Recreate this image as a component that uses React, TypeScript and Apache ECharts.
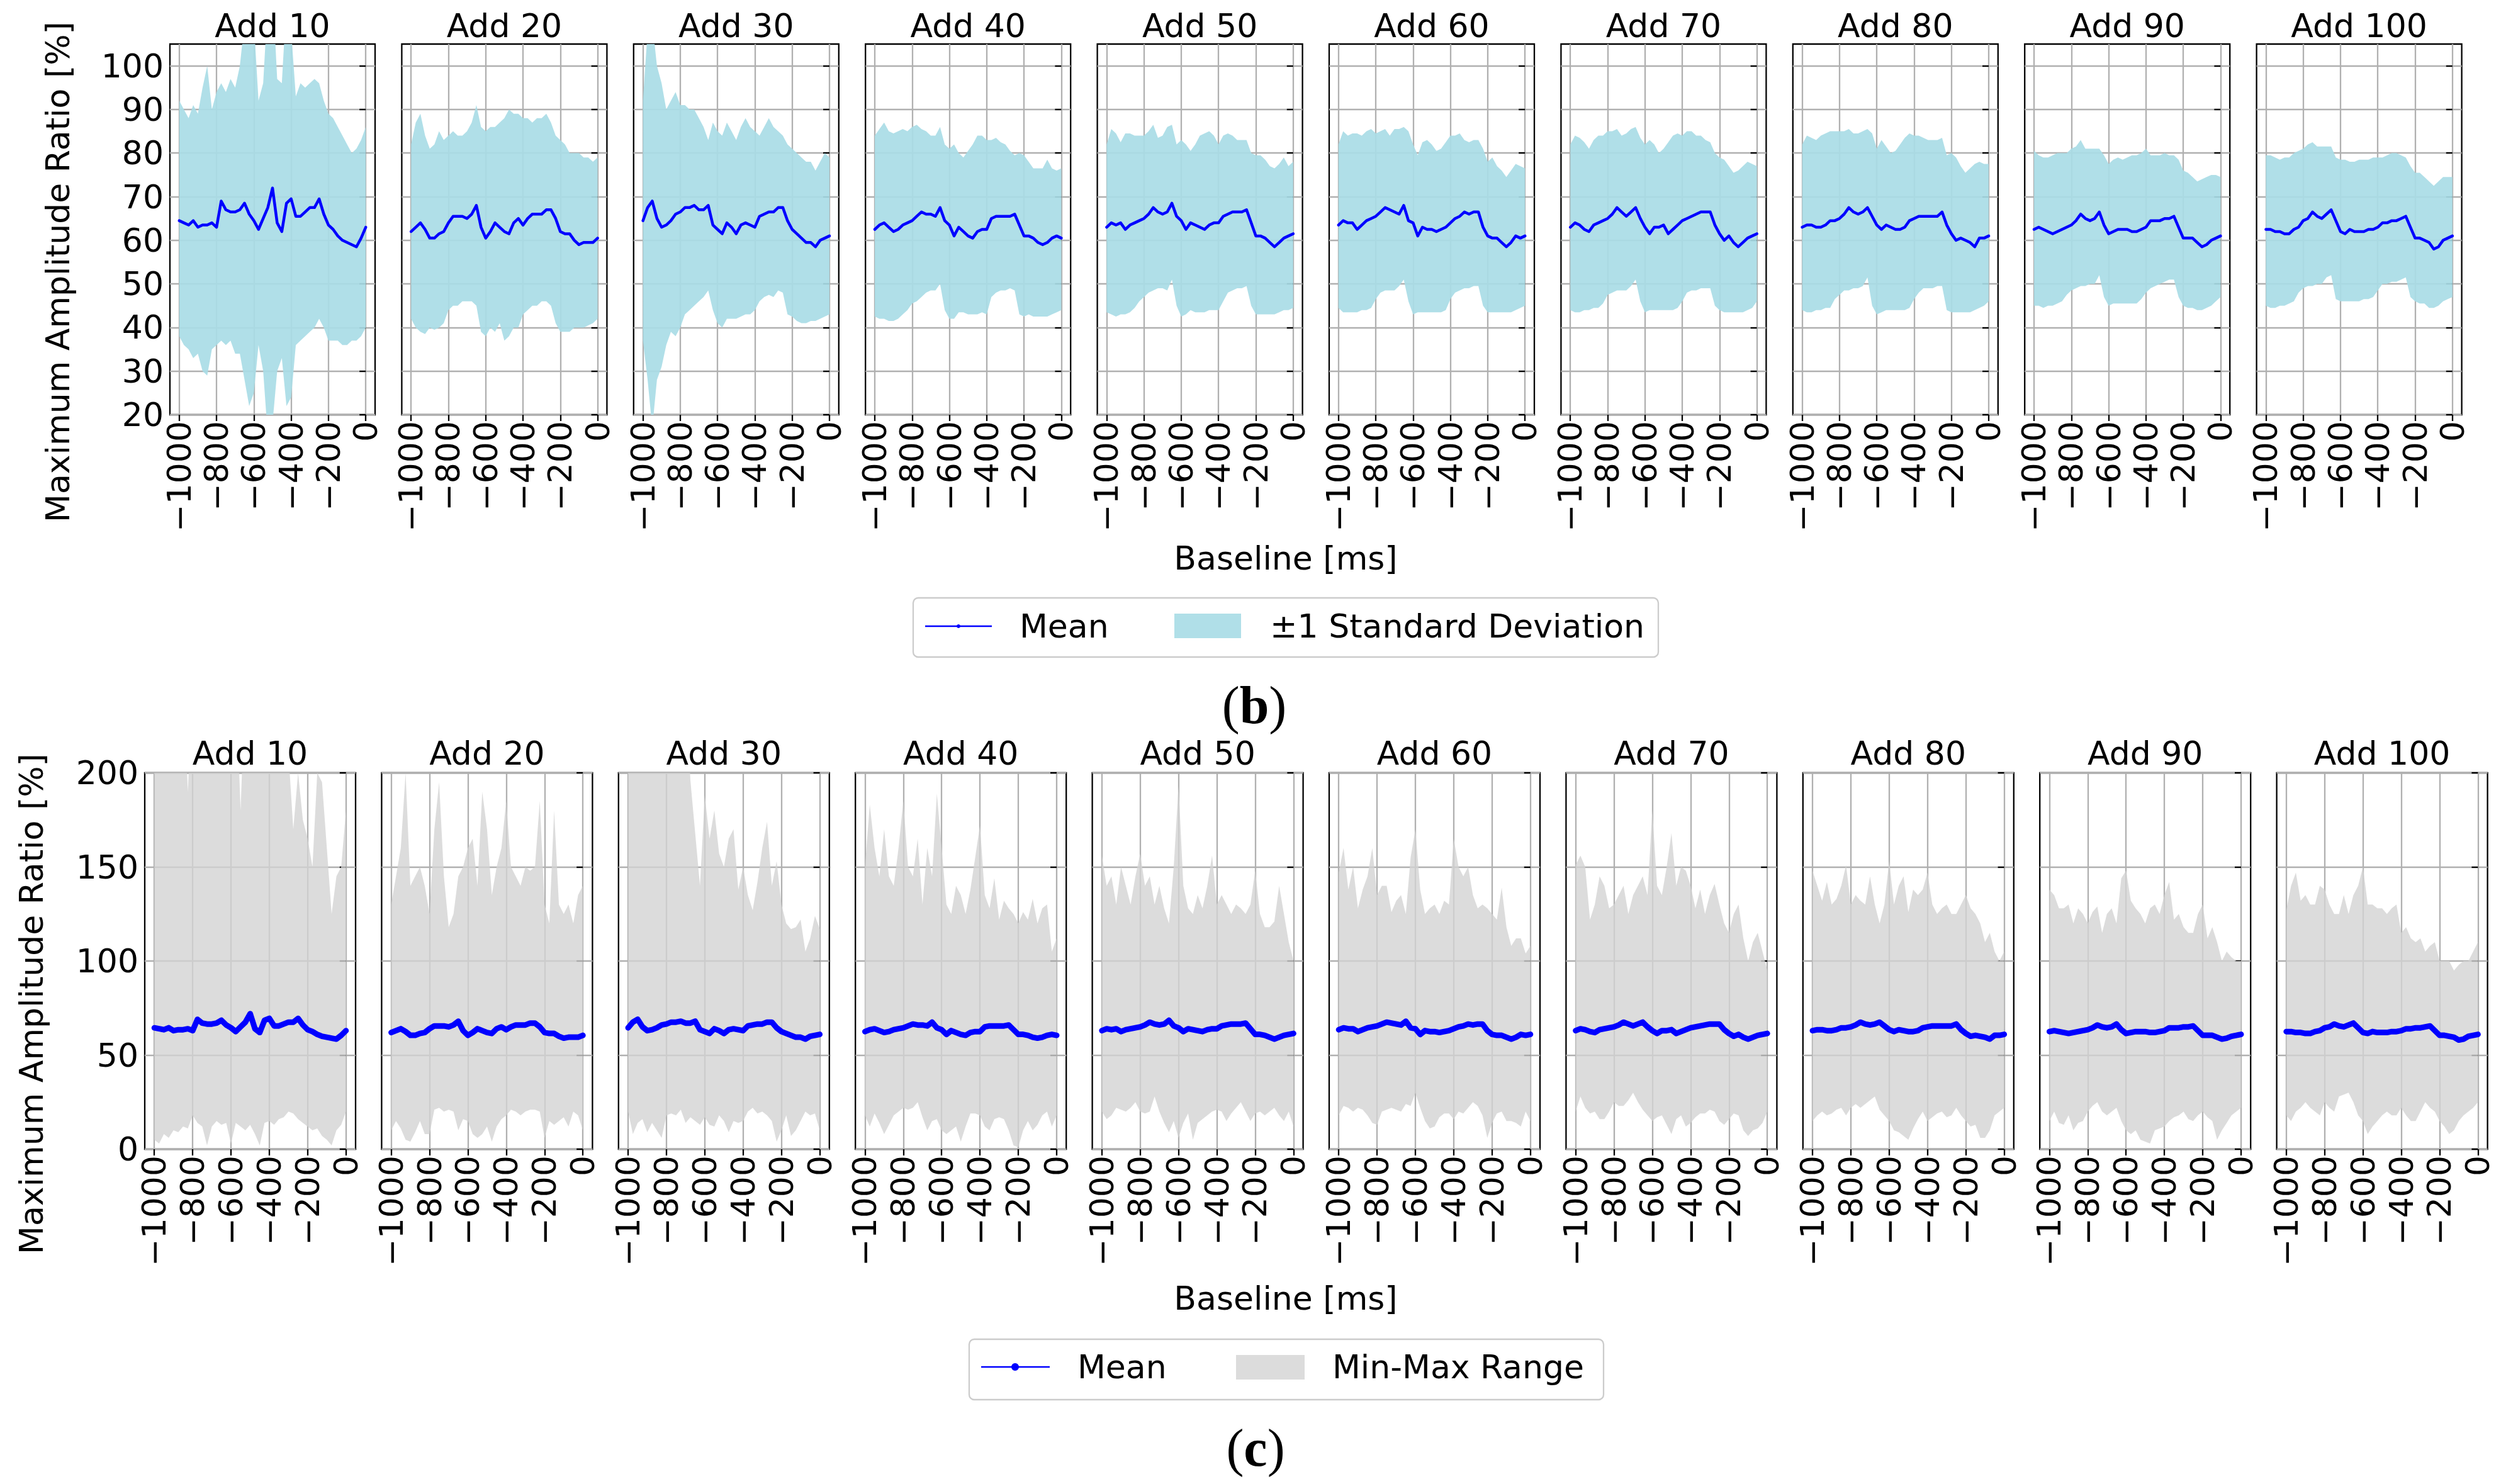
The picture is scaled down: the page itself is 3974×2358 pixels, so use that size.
import React, { useEffect, useRef } from "react";
import * as echarts from "echarts";

// ---------------- DATA ----------------
const baselineMs = [-1000, -975, -950, -925, -900, -875, -850, -825, -800, -775, -750, -725, -700, -675, -650, -625, -600, -575, -550, -525, -500, -475, -450, -425, -400, -375, -350, -325, -300, -275, -250, -225, -200, -175, -150, -125, -100, -75, -50, -25, 0];
const xTickValues = [-1000, -800, -600, -400, -200, 0];
const yTicksStd = [20, 30, 40, 50, 60, 70, 80, 90, 100];
const yTicksRange = [0, 50, 100, 150, 200];
const panelNames = ["Add 10", "Add 20", "Add 30", "Add 40", "Add 50", "Add 60", "Add 70", "Add 80", "Add 90", "Add 100"];

const meanAdd10 = [64.5, 64, 63.5, 64.5, 63, 63.5, 63.5, 64, 63, 69, 67, 66.5, 66.5, 67, 68.5, 66, 64.5, 62.5, 65, 67.5, 72, 64, 62, 68.5, 69.5, 65.5, 65.5, 66.5, 67.5, 67.5, 69.5, 66, 63.5, 62.5, 61, 60, 59.5, 59, 58.5, 60.5, 63];
const meanAdd20 = [62, 63, 64, 62.5, 60.5, 60.5, 61.5, 62, 64, 65.5, 65.5, 65.5, 65, 66, 68, 63, 60.5, 62, 64, 63, 62, 61.5, 64, 65, 63.5, 65, 66, 66, 66, 67, 67, 65, 62, 61.5, 61.5, 60, 59, 59.5, 59.5, 59.5, 60.5];
const meanAdd30 = [64.5, 67.5, 69, 65, 63, 63.5, 64.5, 66, 66.5, 67.5, 67.5, 68, 67, 67, 68, 63.5, 62.5, 61.5, 64, 63, 61.5, 63.5, 64, 63.5, 63, 65.5, 66, 66.5, 66.5, 67.5, 67.5, 64.5, 62.5, 61.5, 60.5, 59.5, 59.5, 58.5, 60, 60.5, 61];
const meanAdd40 = [62.5, 63.5, 64, 63, 62, 62.5, 63.5, 64, 64.5, 65.5, 66.5, 66, 66, 65.5, 67.5, 64.5, 63.5, 61, 63, 62, 61, 60.5, 62, 62.5, 62.5, 65, 65.5, 65.5, 65.5, 65.5, 66, 63.5, 61, 61, 60.5, 59.5, 59, 59.5, 60.5, 61, 60.5];
const meanAdd50 = [63, 64, 63.5, 64, 62.5, 63.5, 64, 64.5, 65, 66, 67.5, 66.5, 66, 66.5, 68.5, 65.5, 64.5, 62.5, 64, 63.5, 63, 62.5, 63.5, 64, 64, 65.5, 66, 66.5, 66.5, 66.5, 67, 64, 61, 61, 60.5, 59.5, 58.5, 59.5, 60.5, 61, 61.5];
const meanAdd60 = [63.5, 64.5, 64, 64, 62.5, 63.5, 64.5, 65, 65.5, 66.5, 67.5, 67, 66.5, 66, 68, 64.5, 64, 61, 63, 62.5, 62.5, 62, 62.5, 63, 64, 65, 65.5, 66.5, 66, 66.5, 66.5, 63, 61, 60.5, 60.5, 59.5, 58.5, 59.5, 61, 60.5, 61];
const meanAdd70 = [63, 64, 63.5, 62.5, 62, 63.5, 64, 64.5, 65, 66, 67.5, 66.5, 65.5, 66.5, 67.5, 65, 63, 61.5, 63, 63, 63.5, 61.5, 62.5, 63.5, 64.5, 65, 65.5, 66, 66.5, 66.5, 66.5, 63.5, 61.5, 60, 61, 59.5, 58.5, 59.5, 60.5, 61, 61.5];
const meanAdd80 = [63, 63.5, 63.5, 63, 63, 63.5, 64.5, 64.5, 65, 66, 67.5, 66.5, 66, 66.5, 67.5, 65.5, 63.5, 62.5, 63.5, 63, 62.5, 62.5, 63, 64.5, 65, 65.5, 65.5, 65.5, 65.5, 65.5, 66.5, 63.5, 61.5, 60, 60.5, 60, 59.5, 58.5, 60.5, 60.5, 61];
const meanAdd90 = [62.5, 63, 62.5, 62, 61.5, 62, 62.5, 63, 63.5, 64.5, 66, 65, 64.5, 65, 66.5, 63.5, 61.5, 62, 62.5, 62.5, 62.5, 62, 62, 62.5, 63, 64.5, 64.5, 64.5, 65, 65, 65.5, 63, 60.5, 60.5, 60.5, 59.5, 58.5, 59, 60, 60.5, 61];
const meanAdd100 = [62.5, 62.5, 62, 62, 61.5, 61.5, 62.5, 63, 64.5, 65, 66.5, 65.5, 65, 66, 67, 64.5, 62, 61.5, 62.5, 62, 62, 62, 62.5, 62.5, 63, 64, 64, 64.5, 64.5, 65, 65.5, 63, 60.5, 60.5, 60, 59.5, 58, 58.5, 60, 60.5, 61];

const stdHiAdd10 = [92, 90, 88, 91, 89, 95, 100, 90, 94, 96, 94, 97, 95, 100, 110, 112, 110, 92, 96, 115, 118, 97, 96, 115, 108, 93, 96, 95, 96, 97, 96, 92, 89, 88, 86, 84, 82, 80, 81, 83, 86];
const stdLoAdd10 = [38, 36, 35, 33, 34, 30, 29, 35, 36, 37, 36, 37, 34, 34, 28, 22, 25, 36, 30, 15, 18, 30, 33, 22, 24, 36, 37, 38, 39, 40, 42, 40, 37, 37, 37, 36, 36, 37, 37, 38, 40];
const stdHiAdd20 = [82, 87, 89, 84, 81, 82, 85, 83, 84, 85, 84, 84, 85, 87, 91, 86, 85, 86, 86, 87, 88, 90, 89, 89, 88, 88, 87, 88, 88, 89, 87, 84, 83, 82, 80, 80, 80, 79, 79, 78, 79];
const stdLoAdd20 = [42, 40, 39, 38.5, 40, 39.5, 40, 41, 44, 45, 45, 46, 46, 46, 45, 39, 38, 40, 39, 41, 37, 38, 40, 40, 43, 44, 45, 45, 46, 46, 45, 41, 39, 39, 39, 40, 40, 40, 40.5, 41, 42];
const stdHiAdd30 = [92, 108, 110, 100, 96, 90, 92, 94, 91, 91, 90, 90, 88, 86, 83, 87, 85, 84, 87, 85, 83, 86, 88, 86, 85, 84, 86, 88, 86, 85, 84, 82, 81, 80, 79, 78, 78, 76, 78, 80, 79];
const stdLoAdd30 = [37, 28, 17, 28, 31, 36, 39, 38, 40, 43, 44, 45, 46, 47, 48.5, 44, 41, 40, 42, 42, 42, 42.5, 43, 43, 44, 46, 47, 47.5, 47, 48.5, 48, 43, 42.5, 41.5, 41, 41, 41.5, 41.5, 42, 42.5, 43];
const stdHiAdd40 = [84, 85.5, 87, 85, 84.5, 85, 85.5, 85, 86, 86.5, 85.5, 85, 84, 84, 86, 82, 81, 82, 80, 79, 80.5, 82, 84, 84, 83, 83, 83.5, 82.5, 82, 80.5, 79.5, 80, 79.5, 78, 76.5, 76.5, 76.5, 78.5, 76.5, 76, 76.5];
const stdLoAdd40 = [42.5, 42, 42, 41.5, 41.5, 42, 43, 44, 45.5, 46, 47, 48, 48.5, 48.5, 50, 44, 42, 42, 43.5, 43.5, 43, 43, 43, 43.5, 43, 47, 48, 48.5, 48.5, 49, 48.5, 43, 42.5, 43, 42.5, 42.5, 42.5, 42.5, 43, 43.5, 44];
const stdHiAdd50 = [82, 85.5, 84.5, 82.5, 84.5, 84.5, 84, 84, 84, 85, 86.5, 83.5, 84, 86, 86.5, 82, 83, 82, 80.5, 82, 84, 84.5, 85, 84, 82, 84, 84.5, 84, 83, 83, 83, 80, 79.5, 79.5, 78.5, 77, 76.5, 77.5, 79, 77, 78];
const stdLoAdd50 = [43.5, 43, 42.5, 43, 43, 43.5, 44.5, 46, 47, 48, 48.5, 49, 49, 48.5, 51, 45, 42.5, 43, 44, 43.5, 43.5, 43.5, 44, 44, 44, 46, 48, 48.5, 49, 49, 49.5, 45, 43, 43, 43, 43, 43, 43.5, 44, 44, 44.5];
const stdHiAdd60 = [82, 85, 84, 84.5, 84.5, 84, 85, 85.5, 84.5, 85, 85.5, 84, 85.5, 85.5, 86, 85, 82, 79.5, 82.5, 83, 82, 80.5, 81, 82.5, 84, 84, 84.5, 83, 82.5, 83, 83, 81, 78, 79, 77, 76, 74.5, 76, 77.5, 77, 76.5];
const stdLoAdd60 = [44.5, 43.5, 43.5, 43.5, 43.5, 44, 44, 44.5, 46.5, 48, 48.5, 48.5, 48.5, 49.5, 51, 46, 43, 43.5, 43.5, 43.5, 43.5, 43.5, 43.5, 44, 46.5, 48, 48.5, 49, 49, 49.5, 49.5, 45, 43.5, 43.5, 43.5, 43.5, 43.5, 43.5, 44, 44.5, 45];
const stdHiAdd70 = [82, 84, 83.5, 82.5, 81, 83, 84, 84, 85, 85, 85.5, 84, 84.5, 85.5, 86, 83.5, 82, 83, 82, 80, 81, 82.5, 84, 84.5, 84, 85, 85, 84, 84, 83, 82.5, 80, 79, 78.5, 77, 75.5, 76, 77, 78, 77.5, 77];
const stdLoAdd70 = [44, 43.5, 43.5, 44, 44, 44.5, 44.5, 45.5, 47.5, 48, 48.5, 48.5, 48.5, 49.5, 51, 46, 43.5, 44, 44, 44, 44, 44, 44, 44.5, 46, 48, 48.5, 48.5, 49, 49, 49, 45, 44, 43.5, 43.5, 43.5, 43.5, 43.5, 44, 44.5, 46];
const stdHiAdd80 = [82, 84, 83.5, 83, 84, 84.5, 85, 85, 85, 85, 85.5, 84.5, 84.5, 85, 85.5, 84.5, 81, 83, 81.5, 80, 80.5, 82, 83.5, 84.5, 84, 84, 83.5, 83, 83, 83, 83.5, 79.5, 80, 79, 77, 75.5, 76.5, 77.5, 78, 77.5, 77.5];
const stdLoAdd80 = [44, 43.5, 43.5, 44, 44, 44.5, 44.5, 46.5, 47.5, 48.5, 48.5, 49, 49, 49.5, 51.5, 45, 43, 43.5, 44, 44, 44, 44, 44, 44.5, 46.5, 48, 49, 49, 49, 49.5, 49.5, 44, 43.5, 43.5, 43.5, 43.5, 43.5, 44, 44.5, 45, 46];
const stdHiAdd90 = [80.5, 79.5, 79, 79, 79.5, 80, 80, 80, 81, 81.5, 83, 81, 81, 81, 81, 79.5, 77.5, 78.5, 79, 78.5, 79, 79.5, 79.5, 80, 81, 79.5, 79.5, 79.5, 80, 79.5, 79.5, 78.5, 76, 75.5, 74.5, 73.5, 74, 74.5, 75, 75, 74.5];
const stdLoAdd90 = [45, 45, 44.5, 45, 45, 45.5, 46, 47.5, 48.5, 49, 49.5, 49.5, 50, 50, 52, 47, 45, 45.5, 45.5, 45.5, 45.5, 45.5, 45.5, 46.5, 48, 49, 49.5, 50, 50.5, 51, 51, 47, 45, 44.5, 44.5, 44, 44, 44.5, 45, 46, 47];
const stdHiAdd100 = [79.5, 79.5, 79, 78.5, 79, 79, 80, 80.5, 81, 82, 82.5, 81.5, 81.5, 81.5, 81.5, 79, 78.5, 78.5, 78, 78, 78.5, 78.5, 78.5, 79, 79, 79, 79.5, 80, 80, 79.5, 79, 77, 75.5, 75.5, 74.5, 73.5, 72.5, 73.5, 74.5, 74.5, 74.5];
const stdLoAdd100 = [45, 44.5, 44.5, 45, 45, 45.5, 46, 48, 49, 49.5, 49.5, 50, 50, 51.5, 52, 46.5, 46, 46, 46, 46, 46, 46.5, 46.5, 47, 48.5, 50, 50, 50.5, 50.5, 51, 51.5, 47, 46, 45.5, 45.5, 44.5, 44.5, 45, 46, 46.5, 47];

const maxAdd10 = [260, 250, 250, 250, 250, 250, 250, 190, 250, 250, 250, 250, 250, 250, 250, 250, 250, 250, 180, 250, 250, 250, 250, 250, 250, 250, 250, 250, 210, 170, 200, 175, 165, 150, 200, 195, 160, 125, 145, 150, 180];
const minAdd10 = [5, 3, 8, 6, 10, 9, 12, 11, 18, 14, 12, 2, 12, 15, 13, 14, 3, 14, 12, 10, 13, 8, 2, 14, 15, 13, 16, 17, 20, 19, 16, 14, 12, 10, 11, 7, 5, 2, 10, 13, 20];
const maxAdd20 = [130, 145, 160, 200, 140, 145, 150, 140, 125, 170, 195, 145, 118, 125, 145, 150, 160, 165, 140, 190, 170, 135, 150, 160, 185, 150, 145, 140, 150, 148, 150, 185, 130, 120, 180, 130, 125, 130, 120, 135, 140];
const minAdd20 = [10, 15, 11, 5, 4, 9, 15, 8, 8, 21, 22, 20, 21, 20, 10, 16, 15, 8, 6, 8, 12, 4, 12, 16, 18, 21, 20, 18, 20, 21, 21, 20, 6, 15, 13, 15, 17, 12, 20, 18, 10];
const maxAdd30 = [240, 250, 250, 250, 250, 250, 250, 250, 250, 250, 250, 250, 250, 196, 168, 140, 188, 165, 180, 157, 150, 165, 170, 138, 150, 135, 127, 142, 160, 174, 140, 153, 130, 120, 117, 118, 122, 105, 112, 124, 117];
const minAdd30 = [20, 8, 14, 16, 9, 14, 10, 6, 18, 19, 18, 21, 14, 17, 15, 13, 17, 13, 12, 18, 15, 9, 15, 14, 15, 20, 22, 19, 20, 18, 15, 4, 10, 18, 7, 10, 15, 20, 18, 19, 10];
const maxAdd40 = [150, 183, 160, 145, 170, 145, 140, 160, 185, 150, 145, 165, 130, 160, 145, 189, 160, 130, 125, 140, 135, 125, 138, 155, 172, 135, 128, 144, 122, 132, 128, 125, 120, 126, 122, 133, 120, 128, 130, 105, 112];
const minAdd40 = [18, 12, 19, 14, 8, 13, 18, 20, 22, 21, 22, 25, 17, 10, 15, 16, 10, 8, 10, 12, 4, 12, 19, 19, 18, 12, 10, 16, 17, 16, 10, 2, 1, 10, 15, 10, 13, 18, 20, 12, 18];
const maxAdd50 = [156, 140, 145, 130, 150, 140, 130, 145, 157, 140, 145, 130, 140, 128, 120, 150, 193, 140, 128, 125, 135, 128, 140, 156, 130, 135, 130, 125, 130, 128, 125, 130, 148, 125, 118, 118, 121, 140, 125, 110, 100];
const minAdd50 = [20, 16, 18, 22, 21, 20, 22, 25, 20, 19, 20, 28, 20, 14, 9, 15, 6, 14, 19, 5, 14, 16, 18, 20, 21, 20, 15, 19, 22, 25, 20, 15, 19, 20, 18, 20, 22, 18, 15, 20, 12];
const maxAdd60 = [147, 160, 138, 150, 128, 138, 145, 160, 135, 140, 140, 126, 132, 135, 125, 155, 170, 138, 125, 128, 130, 125, 132, 130, 165, 150, 145, 150, 135, 128, 130, 128, 125, 122, 139, 118, 108, 112, 112, 104, 108];
const minAdd60 = [18, 23, 22, 20, 22, 21, 18, 14, 13, 20, 21, 22, 21, 20, 24, 23, 30, 22, 15, 11, 12, 17, 19, 19, 16, 20, 19, 22, 25, 23, 18, 6, 14, 19, 20, 15, 15, 14, 12, 20, 15];
const maxAdd70 = [151, 156, 150, 122, 130, 145, 140, 128, 130, 135, 140, 125, 135, 140, 145, 135, 180, 140, 135, 150, 168, 140, 150, 148, 140, 128, 138, 125, 135, 141, 130, 120, 115, 125, 130, 112, 100, 110, 115, 105, 95];
const minAdd70 = [20, 28, 22, 19, 20, 16, 16, 20, 25, 23, 23, 26, 30, 25, 21, 18, 15, 17, 18, 13, 8, 16, 18, 12, 14, 17, 19, 19, 21, 20, 15, 13, 16, 19, 18, 10, 7, 10, 11, 14, 20];
const maxAdd80 = [148, 140, 132, 142, 130, 133, 140, 151, 130, 135, 132, 130, 145, 130, 120, 130, 153, 130, 140, 145, 126, 138, 135, 138, 147, 130, 125, 128, 130, 125, 125, 130, 135, 128, 125, 120, 110, 115, 105, 100, 105];
const minAdd80 = [15, 18, 20, 18, 19, 21, 22, 18, 22, 24, 22, 24, 26, 28, 21, 18, 15, 10, 9, 7, 5, 11, 16, 20, 15, 17, 19, 20, 17, 18, 22, 18, 15, 12, 13, 6, 6, 10, 18, 20, 22];
const maxAdd90 = [138, 135, 128, 128, 130, 120, 128, 125, 120, 126, 129, 115, 125, 128, 120, 144, 148, 132, 128, 125, 120, 128, 130, 125, 135, 142, 122, 125, 118, 115, 115, 125, 130, 112, 118, 110, 100, 105, 102, 100, 100];
const minAdd90 = [15, 20, 14, 13, 18, 10, 14, 15, 20, 23, 25, 20, 18, 20, 22, 15, 10, 8, 10, 5, 4, 3, 10, 11, 12, 15, 17, 18, 20, 16, 15, 18, 20, 17, 15, 5, 10, 14, 18, 20, 22];
const maxAdd100 = [127, 140, 147, 132, 135, 130, 130, 140, 138, 130, 125, 125, 135, 125, 135, 140, 150, 130, 130, 128, 128, 125, 128, 130, 115, 118, 112, 110, 112, 105, 108, 110, 100, 100, 100, 95, 98, 100, 100, 105, 110];
const minAdd100 = [18, 15, 20, 22, 25, 22, 20, 18, 25, 22, 20, 28, 29, 30, 25, 18, 15, 8, 12, 15, 18, 20, 18, 18, 22, 18, 15, 15, 20, 25, 22, 20, 15, 12, 8, 10, 15, 18, 20, 22, 25];

const meanByPanel = [meanAdd10, meanAdd20, meanAdd30, meanAdd40, meanAdd50, meanAdd60, meanAdd70, meanAdd80, meanAdd90, meanAdd100];
const stdHiByPanel = [stdHiAdd10, stdHiAdd20, stdHiAdd30, stdHiAdd40, stdHiAdd50, stdHiAdd60, stdHiAdd70, stdHiAdd80, stdHiAdd90, stdHiAdd100];
const stdLoByPanel = [stdLoAdd10, stdLoAdd20, stdLoAdd30, stdLoAdd40, stdLoAdd50, stdLoAdd60, stdLoAdd70, stdLoAdd80, stdLoAdd90, stdLoAdd100];
const maxByPanel = [maxAdd10, maxAdd20, maxAdd30, maxAdd40, maxAdd50, maxAdd60, maxAdd70, maxAdd80, maxAdd90, maxAdd100];
const minByPanel = [minAdd10, minAdd20, minAdd30, minAdd40, minAdd50, minAdd60, minAdd70, minAdd80, minAdd90, minAdd100];

// ---------------- LAYOUT / STYLE ----------------
const FIG_W = 3974;
const FIG_H = 2358;
const FONT = "DejaVu Sans";
const FS = 52;

const ROWS = [
  {
    left: 270, pitch: 368.4, width: 326, top: 70, height: 589,
    yMin: 20, yMax: 105, yInterval: 10, yTicks: yTicksStd,
    bandColor: "#A9DCE6", bandOpacity: 0.92, lineWidth: 4.5,
    titleY: 41, hi: stdHiByPanel, lo: stdLoByPanel,
  },
  {
    left: 230, pitch: 376.4, width: 335, top: 1228, height: 598,
    yMin: 0, yMax: 200, yInterval: 50, yTicks: yTicksRange,
    bandColor: "#D3D3D3", bandOpacity: 0.8, lineWidth: 9,
    titleY: 1197, hi: maxByPanel, lo: minByPanel,
  },
];

function fmtTick(v: number) {
  return v < 0 ? "\u2212" + Math.abs(v) : String(v);
}

function txt(x: number, y: number, text: string, opts: any = {}) {
  return {
    type: "text",
    x,
    y,
    rotation: opts.rotation || 0,
    silent: true,
    z: 10,
    style: {
      text,
      fill: "#000",
      fontSize: opts.fontSize || FS,
      fontFamily: opts.fontFamily || FONT,
      fontWeight: opts.fontWeight || "normal",
      align: opts.align || "center",
      textAlign: opts.align || "center",
      verticalAlign: "middle",
      textVerticalAlign: "middle",
      rich: opts.rich,
    },
  };
}

function buildOption() {
  const grid: any[] = [];
  const xAxis: any[] = [];
  const yAxis: any[] = [];
  const series: any[] = [];
  const graphic: any[] = [];

  ROWS.forEach((row, r) => {
    panelNames.forEach((name, i) => {
      const idx = r * 10 + i;
      const left = row.left + i * row.pitch;
      grid.push({
        left, top: row.top, width: row.width, height: row.height,
        show: true, borderColor: "#000", borderWidth: 2.3,
        backgroundColor: "transparent", containLabel: false, outerBoundsMode: "none",
      });
      xAxis.push({
        type: "value", gridIndex: idx, min: -1050, max: 50,
        axisLine: { show: false },
        axisTick: { show: true, inside: false, length: 10, lineStyle: { color: "#000", width: 2.3 }, customValues: xTickValues },
        axisLabel: {
          show: true, customValues: xTickValues, rotate: 90, margin: 10,
          fontSize: FS, fontFamily: FONT, color: "#000", formatter: fmtTick,
        },
        splitLine: { show: true, lineStyle: { color: "#b0b0b0", width: 2.3 } },
      });
      yAxis.push({
        type: "value", gridIndex: idx, min: row.yMin, max: row.yMax, interval: row.yInterval,
        axisLine: { show: false },
        axisTick: { show: true, inside: false, length: 10, lineStyle: { color: "#000", width: 2.3 }, customValues: row.yTicks },
        axisLabel: {
          show: i === 0, customValues: row.yTicks, margin: 10,
          fontSize: FS, fontFamily: FONT, color: "#000",
        },
        splitLine: { show: true, lineStyle: { color: "#b0b0b0", width: 2.3 } },
      });

      const hi = row.hi[i];
      const lo = row.lo[i];
      const bandColor = row.bandColor;
      const bandOpacity = row.bandOpacity;
      series.push({
        type: "custom",
        xAxisIndex: idx,
        yAxisIndex: idx,
        silent: true,
        z: 2,
        data: baselineMs.map((x, k) => [x, lo[k], hi[k]]),
        renderItem: (params: any, api: any) => {
          if (params.dataIndex !== 0) return null;
          const pts: number[][] = [];
          for (let k = 0; k < baselineMs.length; k++) pts.push(api.coord([baselineMs[k], hi[k]]));
          for (let k = baselineMs.length - 1; k >= 0; k--) pts.push(api.coord([baselineMs[k], lo[k]]));
          const cs = params.coordSys;
          return {
            type: "polygon",
            shape: { points: pts },
            style: { fill: bandColor, opacity: bandOpacity, stroke: "none" },
            clipPath: { type: "rect", shape: { x: cs.x, y: cs.y, width: cs.width, height: cs.height } },
          };
        },
      });
      const mean = meanByPanel[i];
      series.push({
        type: "line",
        xAxisIndex: idx,
        yAxisIndex: idx,
        silent: true,
        z: 3,
        symbol: "none",
        showSymbol: false,
        clip: true,
        data: baselineMs.map((x, k) => [x, mean[k]]),
        lineStyle: { color: "#0000ff", width: row.lineWidth, join: "round", cap: "round" },
      });

      graphic.push(txt(left + row.width / 2, row.titleY, name));
    });
  });

  // axis labels
  graphic.push(txt(92, 432, "Maximum Amplitude Ratio [%]", { rotation: Math.PI / 2 }));
  graphic.push(txt(50, 1595, "Maximum Amplitude Ratio [%]", { rotation: Math.PI / 2 }));
  graphic.push(txt(2043, 887, "Baseline [ms]"));
  graphic.push(txt(2043, 2063, "Baseline [ms]"));

  // legend (b)
  graphic.push({ type: "rect", z: 9, silent: true, shape: { x: 1451, y: 950, width: 1184, height: 94, r: 8 }, style: { fill: "#fff", stroke: "#cccccc", lineWidth: 2.3 } });
  graphic.push({ type: "line", z: 10, silent: true, shape: { x1: 1470, y1: 995, x2: 1576, y2: 995 }, style: { stroke: "#0000ff", lineWidth: 2.5 } });
  graphic.push({ type: "circle", z: 10, silent: true, shape: { cx: 1523, cy: 995, r: 3 }, style: { fill: "#0000ff" } });
  graphic.push(txt(1620, 995, "Mean", { align: "left" }));
  graphic.push({ type: "rect", z: 10, silent: true, shape: { x: 1866, y: 975, width: 106, height: 39 }, style: { fill: "#B0DFE8" } });
  graphic.push(txt(2018, 995, "\u00B11 Standard Deviation", { align: "left" }));

  // legend (c)
  graphic.push({ type: "rect", z: 9, silent: true, shape: { x: 1540, y: 2128, width: 1008, height: 96, r: 8 }, style: { fill: "#fff", stroke: "#cccccc", lineWidth: 2.3 } });
  graphic.push({ type: "line", z: 10, silent: true, shape: { x1: 1559, y1: 2172, x2: 1668, y2: 2172 }, style: { stroke: "#0000ff", lineWidth: 2.5 } });
  graphic.push({ type: "circle", z: 10, silent: true, shape: { cx: 1613, cy: 2172, r: 6 }, style: { fill: "#0000ff" } });
  graphic.push(txt(1712, 2172, "Mean", { align: "left" }));
  graphic.push({ type: "rect", z: 10, silent: true, shape: { x: 1964, y: 2153, width: 109, height: 39 }, style: { fill: "#DCDCDC" } });
  graphic.push(txt(2117, 2172, "Min-Max Range", { align: "left" }));

  // subfigure captions
  const serifRich = {
    p: { fontFamily: "Liberation Serif", fontSize: 84, fill: "#000" },
    b: { fontFamily: "Liberation Serif", fontSize: 84, fontWeight: "bold", fill: "#000" },
  };
  graphic.push(txt(1993, 1120, "{p|(}{b|b}{p|)}", { rich: serifRich, fontFamily: "Liberation Serif", fontSize: 84 }));
  graphic.push(txt(1995, 2300, "{p|(}{b|c}{p|)}", { rich: serifRich, fontFamily: "Liberation Serif", fontSize: 84 }));

  return {
    animation: false,
    backgroundColor: "#ffffff",
    grid,
    xAxis,
    yAxis,
    series,
    graphic: { elements: graphic },
  };
}

export default function App() {
  const ref = useRef<HTMLDivElement>(null);
  useEffect(() => {
    if (!ref.current) return;
    const chart = echarts.init(ref.current, null, { renderer: "svg", width: FIG_W, height: FIG_H });
    chart.setOption(buildOption() as any);
    return () => {
      chart.dispose();
    };
  }, []);
  return (
    <div
      ref={ref}
      style={{ position: "fixed", left: 0, top: 0, width: FIG_W + "px", height: FIG_H + "px", background: "#fff" }}
    />
  );
}
